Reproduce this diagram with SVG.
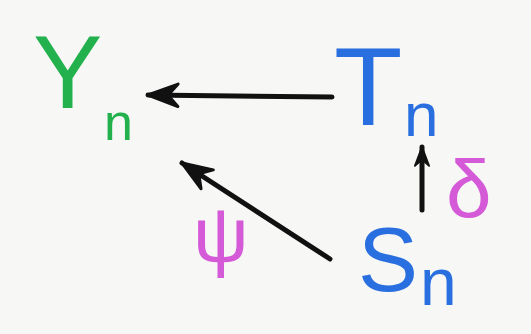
<svg xmlns="http://www.w3.org/2000/svg" width="531" height="334" viewBox="0 0 531 334">
<defs>
<style>
.lbl{font-family:"Liberation Sans","DejaVu Sans",sans-serif;}
.g{fill:#22b14c;}
.b{fill:#2a6fe0;}
.m{fill:#d45ad8;}
.edge{stroke:#111;stroke-width:5;stroke-linecap:round;fill:none;}
</style>
<marker id="ah" viewBox="0 0 14 12" refX="13" refY="6" markerWidth="36" markerHeight="30" markerUnits="userSpaceOnUse" orient="auto">
<path d="M1,1.5 L13,6 L1,10.5 L5,6 Z" fill="#111" stroke="#111" stroke-width="1.2" stroke-linejoin="round"/>
</marker>
<marker id="ahs" viewBox="0 0 14 12" refX="13" refY="6" markerWidth="22" markerHeight="19" markerUnits="userSpaceOnUse" orient="auto">
<path d="M1,1.5 L13,6 L1,10.5 L5,6 Z" fill="#111" stroke="#111" stroke-width="1.2" stroke-linejoin="round"/>
</marker>
</defs>
<rect x="0" y="0" width="531" height="334" fill="#f7f7f5"/>
<g id="connectors">
<line class="edge" x1="332" y1="97" x2="148" y2="95" marker-end="url(#ah)"/>
<line class="edge" x1="330" y1="259" x2="182" y2="163" marker-end="url(#ah)"/>
<line class="edge" x1="422" y1="210" x2="422" y2="147" marker-end="url(#ahs)"/>
</g>
<g id="node-Y">
<text class="lbl g" x="33" y="108" font-size="104">Y</text>
<text class="lbl g" x="104" y="140" font-size="52">n</text>
</g>
<g id="node-T">
<text class="lbl b" x="334" y="125" font-size="112">T</text>
<text class="lbl b" x="404" y="136" font-size="62">n</text>
</g>
<g id="node-S">
<text class="lbl b" x="358" y="291" font-size="90">S</text>
<text class="lbl b" x="420" y="305" font-size="66">n</text>
</g>
<g id="label-psi">
<text class="lbl m" x="193" y="262" font-size="78">ψ</text>
</g>
<g id="label-delta">
<text class="lbl m" x="446" y="217" font-size="82">δ</text>
</g>
</svg>
